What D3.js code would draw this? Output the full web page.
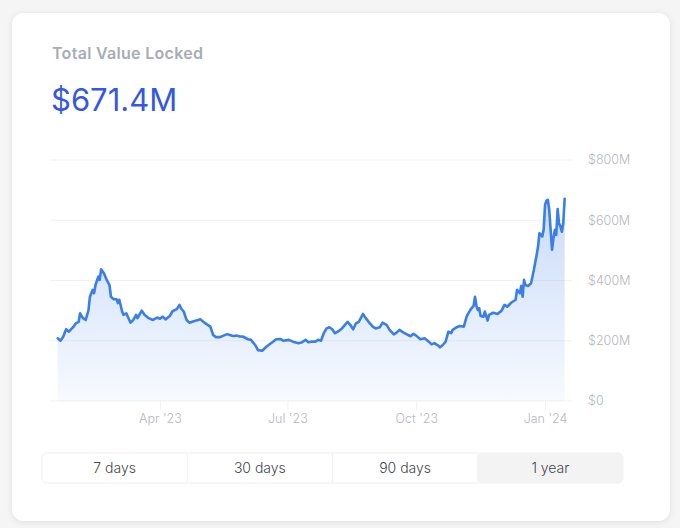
<!DOCTYPE html>
<html>
<head>
<meta charset="utf-8">
<script src="https://cdn.jsdelivr.net/npm/d3@7"></script>
<style>
  html, body { margin: 0; padding: 0; background: #f5f5f6; }
  svg { display: block; }
</style>
</head>
<body>
<svg id="chart" width="680" height="528"></svg>
<script>
const title = "Total Value Locked";
const headline = "$671.4M";
const yTicks = [0, 200, 400, 600, 800];
const xTickDates = ["2023-04-01", "2023-07-01", "2023-10-01", "2024-01-01"];
const xTickLabels = ["Apr '23", "Jul '23", "Oct '23", "Jan '24"];
const ranges = ["7 days", "30 days", "90 days", "1 year"];
const activeRange = "1 year";

const dates = [
"2023-01-18","2023-01-20","2023-01-22","2023-01-24","2023-01-26","2023-01-29","2023-01-31","2023-02-02","2023-02-03","2023-02-05",
"2023-02-07","2023-02-09","2023-02-10","2023-02-12","2023-02-13","2023-02-14","2023-02-16","2023-02-17","2023-02-18","2023-02-20",
"2023-02-22","2023-02-24","2023-02-25","2023-02-27","2023-03-01","2023-03-02","2023-03-03","2023-03-05","2023-03-06","2023-03-08",
"2023-03-11","2023-03-13","2023-03-15","2023-03-16","2023-03-19","2023-03-21","2023-03-24","2023-03-27","2023-03-30","2023-04-01",
"2023-04-03","2023-04-05","2023-04-08","2023-04-10","2023-04-13","2023-04-15","2023-04-16","2023-04-18","2023-04-20","2023-04-22",
"2023-04-24","2023-04-27","2023-04-30","2023-05-02","2023-05-04","2023-05-07","2023-05-09","2023-05-11","2023-05-14","2023-05-16",
"2023-05-19","2023-05-21","2023-05-23","2023-05-26","2023-05-28","2023-05-30","2023-06-03","2023-06-05","2023-06-08","2023-06-10",
"2023-06-13","2023-06-16","2023-06-20","2023-06-23","2023-06-26","2023-06-28","2023-07-02","2023-07-05","2023-07-09","2023-07-11",
"2023-07-14","2023-07-16","2023-07-18","2023-07-21","2023-07-23","2023-07-25","2023-07-27","2023-07-29","2023-07-31","2023-08-02",
"2023-08-04","2023-08-06","2023-08-09","2023-08-11","2023-08-13","2023-08-15","2023-08-17","2023-08-19","2023-08-21","2023-08-24",
"2023-08-26","2023-08-28","2023-08-31","2023-09-02","2023-09-05","2023-09-07","2023-09-10","2023-09-12","2023-09-15","2023-09-17",
"2023-09-19","2023-09-22","2023-09-24","2023-09-27","2023-09-29","2023-10-01","2023-10-04","2023-10-07","2023-10-10","2023-10-12",
"2023-10-14","2023-10-17","2023-10-18","2023-10-20","2023-10-22","2023-10-24","2023-10-26","2023-10-27","2023-10-30","2023-11-01",
"2023-11-04","2023-11-06","2023-11-07","2023-11-09","2023-11-11","2023-11-12","2023-11-13","2023-11-14","2023-11-15","2023-11-16",
"2023-11-18","2023-11-19","2023-11-21","2023-11-22","2023-11-25","2023-11-28","2023-12-01","2023-12-03","2023-12-05","2023-12-08",
"2023-12-11","2023-12-12","2023-12-14","2023-12-15","2023-12-16","2023-12-17","2023-12-18","2023-12-20","2023-12-22","2023-12-24",
"2023-12-26","2023-12-27","2023-12-28","2023-12-30","2023-12-31","2024-01-01","2024-01-02","2024-01-03","2024-01-04","2024-01-05",
"2024-01-06","2024-01-07","2024-01-08","2024-01-09","2024-01-10","2024-01-11","2024-01-12","2024-01-13","2024-01-14","2024-01-15"
];
// TVL in millions of USD
const tvl = [
208,200,214,238,230,245,258,263,291,275,
269,302,346,369,358,385,413,402,437,424,
402,385,346,338,338,325,336,297,286,291,
260,269,286,275,300,286,275,269,277,273,
280,271,282,298,305,319,308,297,269,260,
263,267,271,263,256,247,219,212,212,216,
222,219,216,217,214,214,205,203,186,169,
167,180,194,205,206,200,203,197,192,194,
203,195,197,197,203,200,225,241,245,238,
225,230,241,252,263,252,238,258,263,289,
275,263,247,241,245,260,252,236,221,227,
236,227,222,215,223,217,205,208,197,188,
192,183,178,186,197,230,225,236,245,249,
247,280,289,305,316,346,316,302,308,282,
280,297,267,286,293,289,300,319,313,327,
336,369,358,382,346,402,385,382,391,435,
485,512,557,546,568,651,665,668,634,568,
502,540,568,551,637,590,579,562,590,671.4
];

const parse = d3.timeParse("%Y-%m-%d");
const data = dates.map((d, i) => ({ date: parse(d), value: tvl[i] }));

const svg = d3.select("#chart");
const font = "Inter, 'Noto Sans', sans-serif";

// card
const defs = svg.append("defs");
const shadow = defs.append("filter").attr("id", "shadow").attr("x", "-10%").attr("y", "-10%").attr("width", "120%").attr("height", "120%");
shadow.append("feDropShadow").attr("dx", 0).attr("dy", 1).attr("stdDeviation", 3).attr("flood-color", "#000").attr("flood-opacity", 0.09);
svg.append("rect").attr("x", 12).attr("y", 13).attr("width", 658).attr("height", 508).attr("rx", 12)
  .attr("fill", "#fff").attr("filter", "url(#shadow)");

// header
svg.append("text").attr("x", 52).attr("y", 59).text(title)
  .attr("font-family", font).attr("font-size", 16).attr("letter-spacing", 0.3)
  .attr("font-weight", 600).attr("fill", "#a9acb4");
svg.append("text").attr("x", 51).attr("y", 111).text(headline)
  .attr("font-family", font).attr("font-size", 31).attr("font-weight", 400).attr("fill", "#3457e6");

// scales
const x = d3.scaleTime()
  .domain([new Date(2023, 0, 12, 12), new Date(2024, 0, 20, 6)])
  .range([50, 572]);
const y = d3.scaleLinear().domain([0, 800]).range([401, 160]);

// gridlines
svg.append("g").selectAll("line").data(yTicks).join("line")
  .attr("x1", x.range()[0]).attr("x2", x.range()[1])
  .attr("y1", d => y(d)).attr("y2", d => y(d))
  .attr("stroke", "#f1f1f3").attr("stroke-width", 1);

// y labels
svg.append("g").selectAll("text").data(yTicks).join("text")
  .attr("x", 588).attr("y", d => y(d)).attr("dy", "0.35em")
  .text(d => d === 0 ? "$0" : `$${d}M`)
  .attr("font-family", font).attr("font-size", 12.5).attr("font-weight", 300).attr("fill", "#b5b7bc");

// x axis
const xt = xTickDates.map(parse);
const xAxis = d3.axisBottom(x).tickValues(xt).tickFormat((d, i) => xTickLabels[i]).tickSize(9).tickPadding(4);
const gx = svg.append("g").attr("transform", `translate(0,${y(0)})`).call(xAxis);
gx.select(".domain").remove();
gx.selectAll(".tick line").attr("stroke", "#f1f1f3");
gx.selectAll(".tick text").attr("font-family", font).attr("font-size", 12.5)
  .attr("font-weight", 300).attr("fill", "#b5b7bc");

// area gradient
const grad = defs.append("linearGradient").attr("id", "areaGrad")
  .attr("gradientUnits", "userSpaceOnUse").attr("x1", 0).attr("x2", 0).attr("y1", y(800)).attr("y2", y(0));
grad.append("stop").attr("offset", "0%").attr("stop-color", "#3a7ee8").attr("stop-opacity", 0.32);
grad.append("stop").attr("offset", "100%").attr("stop-color", "#3a7ee8").attr("stop-opacity", 0.04);

const area = d3.area().x(d => x(d.date)).y0(y(0)).y1(d => y(d.value));
const line = d3.line().x(d => x(d.date)).y(d => y(d.value));

svg.append("path").datum(data).attr("d", area).attr("fill", "url(#areaGrad)");
svg.append("path").datum(data).attr("d", line)
  .attr("fill", "none").attr("stroke", "#3a7ee8").attr("stroke-width", 2.6)
  .attr("stroke-linejoin", "round").attr("stroke-linecap", "round");

// range selector
const bx = 42, by = 453, bw = 581, bh = 30;
const seg = d3.scaleBand().domain(ranges).range([bx, bx + bw]);
const g = svg.append("g");
g.append("rect").attr("x", bx).attr("y", by).attr("width", bw).attr("height", bh).attr("rx", 5)
  .attr("fill", "#fff").attr("stroke", "#efeff1");
g.selectAll("rect.active").data(ranges.filter(r => r === activeRange)).join("rect")
  .attr("class", "active")
  .attr("x", d => seg(d)).attr("y", by).attr("width", seg.bandwidth()).attr("height", bh).attr("rx", 5)
  .attr("fill", "#f3f3f4");
g.selectAll("line.sep").data(ranges.slice(1)).join("line").attr("class", "sep")
  .attr("x1", d => seg(d)).attr("x2", d => seg(d)).attr("y1", by + 1).attr("y2", by + bh - 1)
  .attr("stroke", "#f0f0f2");
g.selectAll("text").data(ranges).join("text")
  .attr("x", d => seg(d) + seg.bandwidth() / 2).attr("y", by + bh / 2).attr("dy", "0.35em")
  .attr("text-anchor", "middle").text(d => d)
  .attr("font-family", font).attr("font-size", 14).attr("font-weight", 300).attr("fill", "#45474c");
</script>
</body>
</html>
